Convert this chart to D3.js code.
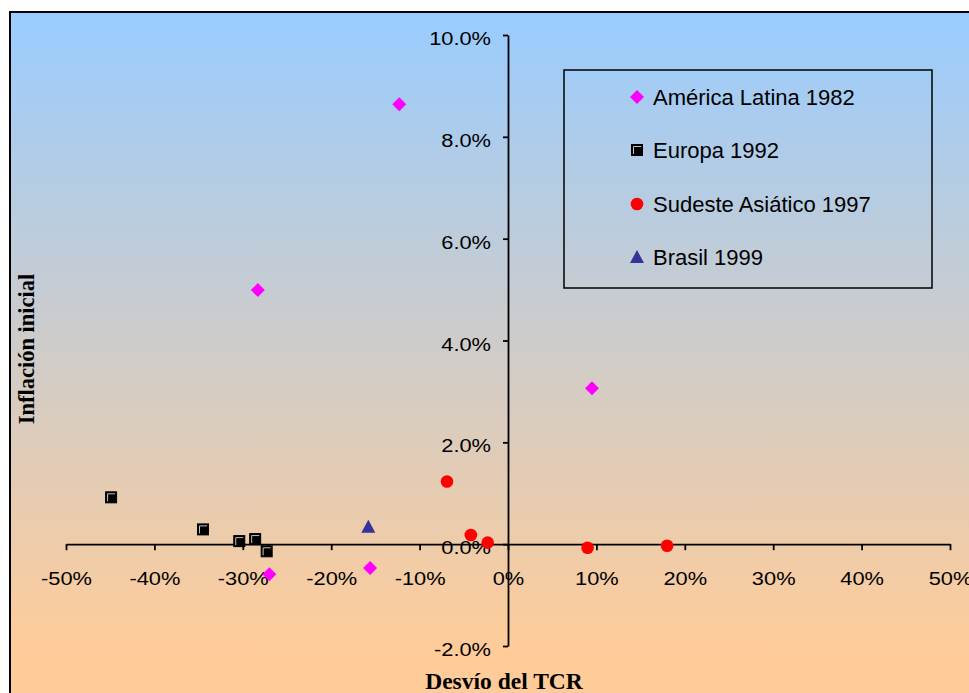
<!DOCTYPE html>
<html>
<head>
<meta charset="utf-8">
<script src="https://cdn.jsdelivr.net/npm/d3@7"></script>
<style>
  html, body { margin: 0; padding: 0; background: #ffffff; }
  svg { display: block; }
</style>
</head>
<body>
<svg id="chart" width="969" height="693"></svg>
<script>
// ---- DATA ----
const seriesNames = ["América Latina 1982", "Europa 1992", "Sudeste Asiático 1997", "Brasil 1999"];
const latamX = [-0.123, -0.283, 0.095, -0.270, -0.156];
const latamY = [0.0864, 0.0499, 0.0306, -0.0059, -0.0047];
const europaX = [-0.449, -0.345, -0.304, -0.286, -0.273];
const europaY = [0.0092, 0.0029, 0.0006, 0.0010, -0.0014];
const asiaX = [-0.069, -0.042, -0.023, 0.090, 0.180];
const asiaY = [0.0123, 0.0018, 0.0003, -0.0007, -0.0003];
const brasilX = [-0.158];
const brasilY = [0.0034];
const xTicks = [-0.5, -0.4, -0.3, -0.2, -0.1, 0, 0.1, 0.2, 0.3, 0.4, 0.5];
const xTickLabels = ["-50%", "-40%", "-30%", "-20%", "-10%", "0%", "10%", "20%", "30%", "40%", "50%"];
const yTicks = [-0.02, 0, 0.02, 0.04, 0.06, 0.08, 0.10];
const yTickLabels = ["-2.0%", "0.0%", "2.0%", "4.0%", "6.0%", "8.0%", "10.0%"];
const xTitle = "Desvío del TCR";
const yTitle = "Inflación inicial";

// ---- LAYOUT ----
const svg = d3.select("#chart");
const x = d3.scaleLinear().domain([-0.5, 0.5]).range([66, 950]);
const y = d3.scaleLinear().domain([-0.02, 0.10]).range([646, 35]);

// background gradient
const defs = svg.append("defs");
const grad = defs.append("linearGradient").attr("id", "bg")
  .attr("gradientUnits", "userSpaceOnUse")
  .attr("x1", 0).attr("y1", 12).attr("x2", 0).attr("y2", 650);
grad.append("stop").attr("offset", "0%").attr("stop-color", "#99CCFF");
grad.append("stop").attr("offset", "100%").attr("stop-color", "#FFCC99");

svg.append("rect").attr("x", 10).attr("y", 12).attr("width", 980).attr("height", 700)
  .attr("fill", "url(#bg)").attr("stroke", "#000").attr("stroke-width", 2);

const sansFont = "Arial, 'Liberation Sans', sans-serif";
const serifFont = "'Times New Roman', 'Liberation Serif', serif";

// X axis
const xAxis = svg.append("g").attr("transform", `translate(0,${y(0)})`)
  .call(d3.axisBottom(x).tickValues(xTicks).tickSize(6).tickSizeOuter(0)
    .tickFormat((d, i) => xTickLabels[i]));
// Y axis
const yAxis = svg.append("g").attr("transform", `translate(${x(0)},0)`)
  .call(d3.axisLeft(y).tickValues(yTicks).tickSize(5).tickSizeOuter(0)
    .tickFormat((d, i) => yTickLabels[i]));

[xAxis, yAxis].forEach(g => {
  g.select(".domain").attr("stroke", "#000").attr("stroke-width", 1.8);
  g.selectAll(".tick line").attr("stroke", "#000").attr("stroke-width", 1.8);
  g.selectAll(".tick text").attr("fill", "#000")
    .style("font-family", sansFont).style("font-size", "18.5px");
});
xAxis.selectAll(".tick text").attr("y", 41).attr("dy", 0)
  .attr("transform", "scale(1.18,1)");
yAxis.selectAll(".tick text").attr("x", -17 / 1.18).attr("y", 9.5).attr("dy", 0)
  .attr("transform", "scale(1.18,1)");

// axis titles
svg.append("text").attr("x", 504).attr("y", 689).attr("text-anchor", "middle")
  .style("font-family", serifFont).style("font-weight", "bold").style("font-size", "23.5px")
  .text(xTitle);
svg.append("text").attr("transform", "translate(34,349) rotate(-90)").attr("text-anchor", "middle")
  .style("font-family", serifFont).style("font-weight", "bold").style("font-size", "22.5px")
  .text(yTitle);

// marker drawers
function drawDiamond(g, cx, cy) {
  g.append("path").attr("transform", `translate(${cx},${cy})`)
    .attr("d", "M0,-7L7,0L0,7L-7,0Z").attr("fill", "#FF00FF");
}
function drawSquare(g, cx, cy) {
  g.append("rect").attr("x", cx - 5.5).attr("y", cy - 5.5).attr("width", 11).attr("height", 11)
    .attr("fill", "#000").attr("stroke", "#000").attr("stroke-width", 1);
  g.append("path").attr("d", `M${cx - 3.5},${cy + 4}V${cy - 3.5}H${cx + 4}`)
    .attr("fill", "none").attr("stroke", "#d8d8d8").attr("stroke-width", 0.9);
}
function drawCircle(g, cx, cy) {
  g.append("circle").attr("cx", cx).attr("cy", cy).attr("r", 6.3).attr("fill", "#FF0000");
}
function drawTriangle(g, cx, cy) {
  g.append("path").attr("transform", `translate(${cx},${cy})`)
    .attr("d", "M0,-7L7,6L-7,6Z").attr("fill", "#333399");
}

const marks = svg.append("g");
europaX.forEach((d, i) => drawSquare(marks, x(d), y(europaY[i])));
latamX.forEach((d, i) => drawDiamond(marks, x(d), y(latamY[i])));
asiaX.forEach((d, i) => drawCircle(marks, x(d), y(asiaY[i])));
brasilX.forEach((d, i) => drawTriangle(marks, x(d), y(brasilY[i])));

// legend
const lg = svg.append("g");
lg.append("rect").attr("x", 564).attr("y", 70).attr("width", 368).attr("height", 218)
  .attr("fill", "none").attr("stroke", "#000").attr("stroke-width", 1.5);
const rowsY = [97, 150, 204, 257];
const drawers = [drawDiamond, drawSquare, drawCircle, drawTriangle];
seriesNames.forEach((name, i) => {
  drawers[i](lg, 637, rowsY[i]);
  lg.append("text").attr("x", 653).attr("y", rowsY[i] + 7.5)
    .style("font-family", sansFont).style("font-size", "22px").attr("fill", "#000")
    .text(name);
});
</script>
</body>
</html>
